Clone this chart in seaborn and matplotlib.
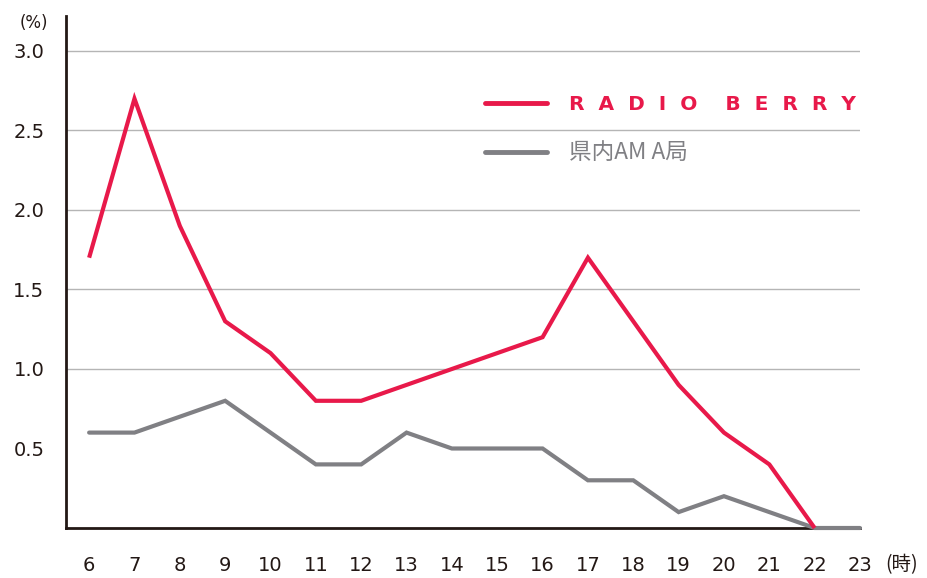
import matplotlib
matplotlib.use("Agg")
import matplotlib.pyplot as plt
import seaborn as sns
import pandas as pd
from matplotlib.lines import Line2D

# hour of day vs share (%)
hours = [6, 7, 8, 9, 10, 11, 12, 13, 14, 15, 16, 17, 18, 19, 20, 21, 22, 23]
radio_berry = [1.7, 2.7, 1.9, 1.3, 1.1, 0.8, 0.8, 0.9, 1.0, 1.1, 1.2, 1.7, 1.3, 0.9, 0.6, 0.4, 0.0, None]
am_station = [0.6, 0.6, 0.7, 0.8, 0.6, 0.4, 0.4, 0.6, 0.5, 0.5, 0.5, 0.3, 0.3, 0.1, 0.2, 0.1, 0.0, 0.0]
yticks = [0.5, 1.0, 1.5, 2.0, 2.5, 3.0]
labels = ["RADIO BERRY", "県内AM A局"]

RED = "#e8194a"
GRAY = "#808084"
INK = "#231815"

sns.set_style("white")
plt.rcParams['font.family'] = ['DejaVu Sans', 'Noto Sans CJK JP']

df = pd.DataFrame({"hour": hours, "rb": radio_berry, "am": am_station})

fig = plt.figure(figsize=(9.28, 5.78), dpi=100)
ax = fig.add_axes([66/928, 1-528/578, (860-66)/928, (528-16)/578])

sns.lineplot(data=df, x="hour", y="am", ax=ax, color=GRAY, lw=3.0, clip_on=False,
             solid_capstyle="round", solid_joinstyle="miter", zorder=3)
sns.lineplot(data=df.dropna(), x="hour", y="rb", ax=ax, color=RED, lw=3.0, clip_on=False,
             solid_capstyle="butt", solid_joinstyle="miter", zorder=4)

ax.set_xlim(5.49, 23.0)
ax.set_ylim(0, 3.22)
ax.set_xticks(hours)
ax.set_xticklabels([str(h) for h in hours])
ax.set_yticks(yticks)
ax.set_yticklabels([f"{v:.1f}" for v in yticks])
ax.set_xlabel("")
ax.set_ylabel("")

ax.tick_params(axis="y", length=0, pad=15.5, labelsize=14, labelcolor=INK)
ax.tick_params(axis="x", length=0, pad=20.5, labelsize=14, labelcolor=INK)

ax.yaxis.grid(True, color="#b5b5b5", lw=1)
ax.yaxis.get_gridlines()[0].set_visible(False)
ax.set_axisbelow(True)

for s in ["top", "right"]:
    ax.spines[s].set_visible(False)
for s in ["left", "bottom"]:
    ax.spines[s].set_color(INK)
    ax.spines[s].set_linewidth(2)
    ax.spines[s].set_zorder(2)

ax.text(-0.023, 0.987, "(%)", transform=ax.transAxes, ha="right", va="center",
        fontsize=12, color=INK)
ax.text(1.0315, -0.072, "(時)", transform=ax.transAxes, ha="left", va="center",
        fontsize=14, color=INK, family=["Noto Sans CJK JP"])

handles = [Line2D([0], [0], color=RED, lw=3.5), Line2D([0], [0], color=GRAY, lw=3.5)]
rb_label = "  ".join(labels[0].replace(" ", "")[:5]) + "    " + "  ".join(labels[0].split()[1])
leg = ax.legend(handles, [rb_label, labels[1]], loc="upper left",
                bbox_to_anchor=(0.504, 0.882), frameon=False, handlelength=3.0,
                handletextpad=1.05, labelspacing=1.3, fontsize=15)
t0, t1 = leg.get_texts()
t0.set_color(RED)
t0.set_fontweight("bold")
t0.set_fontsize(14.5)
t1.set_color(GRAY)
t1.set_fontsize(16.3)
t1.set_family(["Noto Sans CJK JP"])

fig.savefig("out.png", dpi=100)
